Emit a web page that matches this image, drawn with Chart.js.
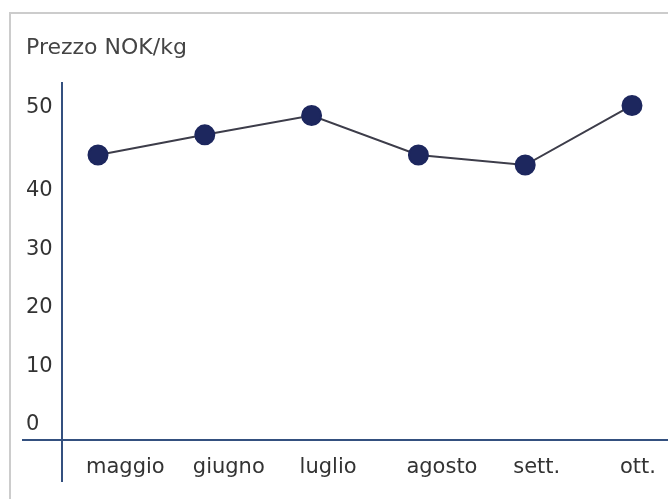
<!DOCTYPE html>
<html>
<head>
<meta charset="utf-8">
<script src="https://cdn.jsdelivr.net/npm/chart.js@4/dist/chart.umd.min.js"></script>
<style>
  body { margin: 0; background: #fff; }
  #frame { position: absolute; left: 9px; top: 12px; width: 700px; height: 600px;
           border-top: 2px solid #cccccc; border-left: 2px solid #cccccc; }
  #chart { position: absolute; left: 0; top: 0; }
</style>
</head>
<body>
<div id="frame"></div>
<canvas id="chart" width="668" height="499"></canvas>
<script>
var mesi = ["maggio", "giugno", "luglio", "agosto", "sett.", "ott."];
var prezzi = [44.3, 46.7, 49.0, 44.3, 43.1, 50.2];
var tacche = [0, 10, 20, 30, 40, 50];

// y scale drawn with a wider step between 40 and 50, like the original
class SplitScale extends Chart.LinearScale {
  getPixelForValue(v) {
    if (v === null || v === undefined) return NaN;
    var b = this.options.breakValue, f = this.options.breakDecimal;
    var d;
    if (v <= b) d = (v - this.min) / (b - this.min) * f;
    else d = f + (v - b) / (this.max - b) * (1 - f);
    return this.getPixelForDecimal(d);
  }
  getValueForPixel(p) {
    var b = this.options.breakValue, f = this.options.breakDecimal;
    var d = this.getDecimalForPixel(p);
    if (d <= f) return this.min + d / f * (b - this.min);
    return b + (d - f) / (1 - f) * (this.max - b);
  }
}
SplitScale.id = 'split';
SplitScale.defaults = Chart.LinearScale.defaults;
Chart.register(SplitScale);

var assi = {
  id: 'assi',
  beforeDatasetsDraw: function (chart) {
    var a = chart.chartArea, c = chart.ctx;
    c.save();
    c.strokeStyle = '#34507f';
    c.lineWidth = 2;
    c.beginPath();
    c.moveTo(a.left - 36, a.top);
    c.lineTo(a.left - 36, a.bottom + 42);
    c.moveTo(22, a.bottom);
    c.lineTo(chart.width, a.bottom);
    c.stroke();
    c.restore();
  }
};

Chart.defaults.font.family = "'DejaVu Sans', sans-serif";
Chart.defaults.font.size = 21;
Chart.defaults.color = '#333';

var chart = new Chart('chart', {
  type: 'line',
  data: {
    labels: mesi,
    datasets: [{
      data: prezzi,
      borderColor: '#3d3d4a',
      borderWidth: 2,
      pointRadius: 9.5,
      pointBackgroundColor: '#1d275e',
      pointBorderColor: '#1d275e',
      pointHoverRadius: 9.5,
      tension: 0
    }]
  },
  options: {
    responsive: false,
    animation: false,
    layout: { padding: { left: 26, right: 36, top: 0, bottom: 0 } },
    plugins: {
      legend: { display: false },
      tooltip: { enabled: false },
      title: {
        display: true,
        text: 'Prezzo NOK/kg',
        align: 'start',
        color: '#444',
        font: { size: 22, weight: 'normal' },
        padding: { top: 35, bottom: 20.6 }
      }
    },
    scales: {
      x: {
        type: 'category',
        offset: false,
        grid: { display: false },
        border: { display: false },
        ticks: { align: 'start', labelOffset: -12, padding: 7, maxRotation: 0, autoSkip: false },
        afterFit: function (s) { s.height = 59; s.paddingLeft = 0; s.paddingRight = 0; }
      },
      y: {
        type: 'split',
        min: -2.56,
        max: 53,
        breakValue: 40,
        breakDecimal: 0.6955,
        grid: { display: false },
        border: { display: false },
        ticks: { crossAlign: 'far', padding: 0 },
        afterBuildTicks: function (s) { s.ticks = tacche.map(function (v) { return { value: v }; }); },
        afterFit: function (s) { s.width = 72; s.paddingTop = 0; s.paddingBottom = 0; }
      }
    }
  },
  plugins: [assi]
});
</script>
</body>
</html>
